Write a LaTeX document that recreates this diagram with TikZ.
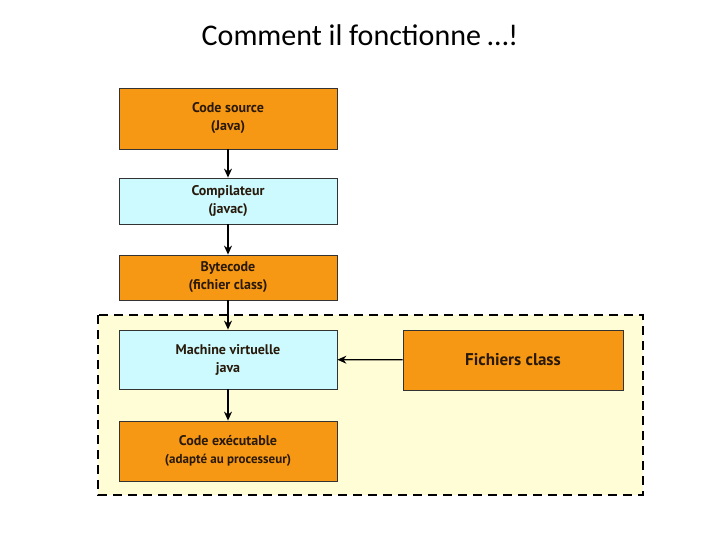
\documentclass[tikz,border=0pt]{standalone}
\usepackage{fontspec}
\setmainfont{Carlito}
\newfontfamily\boxfont{PT Sans}
\usetikzlibrary{arrows.meta}
\definecolor{org}{RGB}{247,152,20}
\definecolor{cy}{RGB}{204,250,255}
\definecolor{yel}{RGB}{255,253,214}
\definecolor{txt}{RGB}{40,25,10}
\begin{document}
\begin{tikzpicture}[x=1pt,y=-1pt,
  bx/.style={draw=black!80,line width=0.8pt,font=\boxfont\bfseries\fontsize{14}{18}\selectfont,text=txt,align=center,inner sep=0pt},
  ar/.style={-{Stealth[length=9pt,width=8pt]},line width=1.2pt}]
\useasboundingbox (0,0) rectangle (720,540);
\fill[white] (0,0) rectangle (720,540);
\node[font=\fontsize{30}{36}\selectfont] (t) at (360,35) {Comment il fonctionne …!};
\draw[fill=yel,dashed,dash pattern=on 9pt off 6pt,line width=1.6pt] (98,315) rectangle (643,495);
\node[bx,fill=org,minimum width=218pt,minimum height=61pt] (a) at (228,118.5) {Code source\\(Java)};
\node[bx,fill=cy,minimum width=218pt,minimum height=46pt] (b) at (228,201) {Compilateur\\(javac)};
\node[bx,fill=org,minimum width=218pt,minimum height=45pt] (c) at (228,277.5) {Bytecode\\(fichier class)};
\node[bx,fill=cy,minimum width=218pt,minimum height=59pt] (d) at (228,359.5) {Machine virtuelle\\java};
\node[bx,fill=org,minimum width=220pt,minimum height=60pt,font=\boxfont\bfseries\fontsize{17}{20}\selectfont] (f) at (513,360) {Fichiers class};
\node[bx,fill=org,minimum width=218pt,minimum height=60pt] (e) at (228,451) {Code exécutable\\{\fontsize{13}{16}\selectfont(adapté au processeur)}};
\draw[ar] (a) -- (b);
\draw[ar] (b) -- (c);
\draw[ar] (c) -- (d);
\draw[ar] (d) -- (e);
\draw[ar] (f) -- (d);
\end{tikzpicture}
\end{document}
